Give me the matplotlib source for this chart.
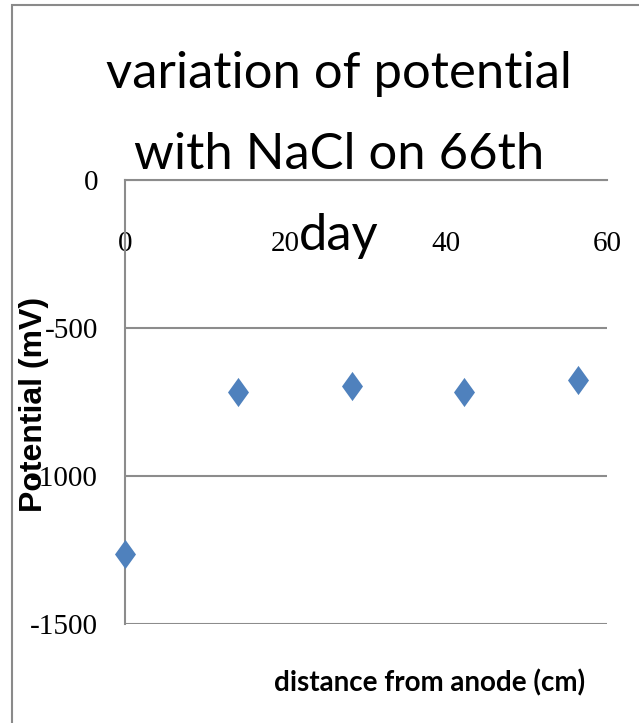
import matplotlib.pyplot as plt
from matplotlib.patches import Rectangle

# data
distance_cm = [0, 14.1, 28.2, 42.2, 56.4]
potential_mv = [-1265, -715, -695, -715, -677]
x_ticks = [0, 20, 40, 60]
y_ticks = [0, -500, -1000, -1500]

title = "variation of potential\nwith NaCl on 66th\nday"
x_label = "distance from anode (cm)"
y_label = "Potential (mV)"

sans = ["Lato", "DejaVu Sans"]
serif = ["Liberation Serif", "DejaVu Serif"]
grid_col = "#8c8c8c"

fig = plt.figure(figsize=(6.39, 7.23), dpi=100)
ax = fig.add_axes([125 / 639, 1 - 624 / 723, (607 - 125) / 639, (624 - 180) / 723])

# outer chart frame (runs off the right and bottom edges)
fig.patches.append(Rectangle((12 / 639, -0.05), 1.2, 1 - 5 / 723 + 0.05,
                             transform=fig.transFigure, fill=False,
                             edgecolor="#8a8a8a", linewidth=1.5))

diamond = [(0, 1), (0.72, 0), (0, -1), (-0.72, 0), (0, 1)]
ax.plot(distance_cm, potential_mv, linestyle="none", marker=diamond,
        markersize=21, color="#4F81BD", markeredgewidth=0, zorder=3,
        clip_on=False)

ax.set_xlim(0, 60)
ax.set_ylim(-1500, 0)
ax.set_xticks(x_ticks)
ax.set_yticks(y_ticks)
ax.set_xticklabels([str(t) for t in x_ticks], family=serif, fontsize=21)
ax.set_yticklabels([str(t) for t in y_ticks], family=serif, fontsize=21)

# x axis sits at y=0 (top) with labels hanging below it
ax.tick_params(axis="x", bottom=False, top=False, labelbottom=False,
               labeltop=True, pad=-59)
ax.tick_params(axis="y", left=False, pad=16)

ax.yaxis.grid(True, color=grid_col, linewidth=1.5)
for side in ["right", "bottom"]:
    ax.spines[side].set_visible(False)
for side in ["left", "top"]:
    ax.spines[side].set_color(grid_col)
    ax.spines[side].set_linewidth(1.5)

fig.text(339 / 639, 1 - 155 / 723, title, family=sans, fontsize=36.5,
         ha="center", va="center", linespacing=1.95)
fig.text(430 / 639, 1 - 683 / 723, x_label, family=sans, fontsize=20,
         fontweight="bold", ha="center", va="center")
fig.text(34 / 639, 1 - 404 / 723, y_label, family=["Liberation Sans", "DejaVu Sans"],
         fontsize=23, fontweight="bold", rotation=90, ha="center", va="center")

fig.savefig("out.png", dpi=100, facecolor="white")
